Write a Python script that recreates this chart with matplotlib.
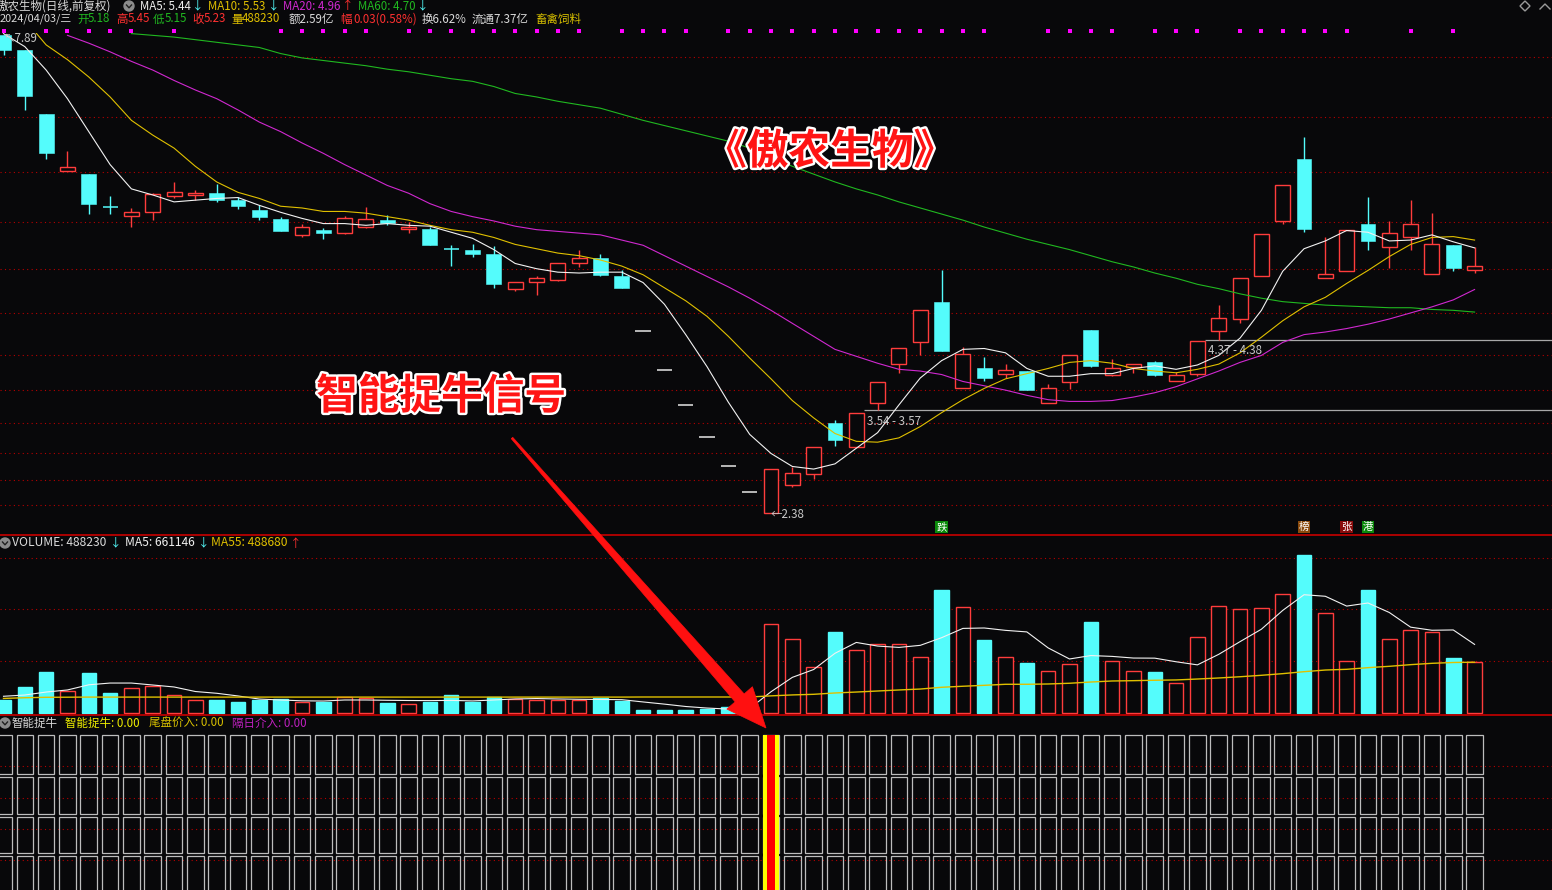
import numpy as np
import matplotlib
matplotlib.use("Agg")
import matplotlib.pyplot as plt
from matplotlib.patches import Rectangle, Polygon, Circle
from matplotlib import patheffects as pe
from matplotlib import transforms as mtrans

plt.rcParams['font.family'] = ['Noto Sans CJK SC', 'DejaVu Sans']

# ---- daily bars (index 0 = leftmost candle) ----
opens = [7.89, 7.72, 6.98, 6.33, 6.29, 5.91, 5.81, 5.85, 6.04, 6.05,
         6.07, 5.99, 5.88, 5.77, 5.59, 5.65, 5.61, 5.68, 5.76, 5.66,
         5.66, 5.43, 5.42, 5.37, 4.97, 5.05, 5.07, 5.27, 5.32, 5.12,
         4.48, 4.03, 3.63, 3.26, 2.93, 2.63, 2.38, 2.71, 2.83, 3.42,
         3.15, 3.65, 4.10, 4.35, 4.82, 3.82, 4.05, 3.99, 4.02, 3.65,
         3.89, 4.49, 3.97, 4.07, 4.12, 3.90, 3.99, 4.48, 4.62, 5.11,
         5.75, 6.46, 5.09, 5.17, 5.72, 5.45, 5.56, 5.14, 5.47, 5.18]
highs = [7.89, 7.72, 6.98, 6.56, 6.29, 6.04, 5.90, 6.07, 6.20, 6.11,
         6.18, 6.03, 5.93, 5.80, 5.72, 5.67, 5.81, 5.91, 5.82, 5.74,
         5.68, 5.47, 5.48, 5.46, 5.05, 5.12, 5.27, 5.41, 5.37, 5.19,
         4.48, 4.03, 3.63, 3.26, 2.93, 2.63, 2.89, 2.91, 3.15, 3.46,
         3.54, 3.89, 4.28, 4.72, 5.19, 4.30, 4.18, 4.10, 4.02, 3.87,
         4.21, 4.49, 4.16, 4.10, 4.14, 4.01, 4.37, 4.78, 5.09, 5.60,
         6.16, 6.72, 5.56, 5.65, 6.03, 5.75, 5.99, 5.84, 5.47, 5.45]
lows = [7.66, 7.03, 6.47, 6.33, 5.83, 5.83, 5.68, 5.76, 6.02, 5.99,
        5.97, 5.89, 5.76, 5.63, 5.57, 5.54, 5.60, 5.67, 5.70, 5.61,
        5.47, 5.23, 5.33, 4.98, 4.94, 4.90, 5.06, 5.22, 5.12, 4.98,
        4.48, 4.03, 3.63, 3.26, 2.93, 2.63, 2.38, 2.68, 2.78, 3.16,
        3.15, 3.57, 4.00, 4.21, 4.25, 3.82, 3.91, 3.94, 3.80, 3.65,
        3.81, 4.07, 3.96, 4.00, 3.96, 3.90, 3.96, 4.38, 4.57, 5.11,
        5.71, 5.62, 5.09, 5.17, 5.42, 5.21, 5.42, 5.14, 5.17, 5.15]
closes = [7.72, 7.19, 6.53, 6.37, 5.95, 5.91, 5.85, 6.06, 6.08, 6.07,
          5.99, 5.92, 5.80, 5.63, 5.68, 5.61, 5.79, 5.77, 5.73, 5.68,
          5.47, 5.43, 5.37, 5.02, 5.05, 5.09, 5.27, 5.32, 5.13, 4.98,
          4.48, 4.03, 3.63, 3.26, 2.93, 2.63, 2.89, 2.85, 3.15, 3.23,
          3.54, 3.89, 4.28, 4.72, 4.25, 4.22, 3.94, 4.03, 3.80, 3.83,
          4.21, 4.08, 4.05, 4.10, 3.98, 3.97, 4.37, 4.63, 5.09, 5.60,
          6.16, 5.66, 5.14, 5.65, 5.52, 5.61, 5.71, 5.48, 5.21, 5.23]

nan = np.nan
ma5 = [7.91, 7.76, 7.49, 7.16, 6.78, 6.40, 6.12, 6.05, 5.97, 5.99,
       6.01, 6.02, 5.93, 5.85, 5.78, 5.72, 5.72, 5.70, 5.72, 5.70,
       5.69, 5.62, 5.55, 5.42, 5.26, 5.20, 5.16, 5.15, 5.16, 5.16,
       5.04, 4.79, 4.44, 4.07, 3.66, 3.29, 3.07, 2.92, 2.89, 2.95,
       3.13, 3.31, 3.63, 3.94, 4.14, 4.27, 4.28, 4.23, 4.05, 3.96,
       3.96, 3.99, 3.99, 4.05, 4.08, 4.04, 4.09, 4.20, 4.40, 4.72,
       5.17, 5.43, 5.52, 5.64, 5.62, 5.52, 5.53, 5.59, 5.51, 5.44]
ma10 = [8.20, 8.07, 7.78, 7.61, 7.41, 7.18, 6.91, 6.74, 6.59, 6.38,
        6.20, 6.08, 6.01, 5.92, 5.90, 5.86, 5.86, 5.84, 5.80, 5.76,
        5.70, 5.65, 5.62, 5.56, 5.48, 5.43, 5.38, 5.35, 5.30, 5.23,
        5.13, 4.98, 4.83, 4.65, 4.42, 4.17, 3.93, 3.68, 3.48, 3.30,
        3.21, 3.20, 3.25, 3.38, 3.54, 3.69, 3.82, 3.93, 3.99, 4.05,
        4.12, 4.14, 4.11, 4.05, 4.02, 4.00, 4.04, 4.10, 4.23, 4.41,
        4.60, 4.76, 4.87, 5.03, 5.18, 5.34, 5.48, 5.56, 5.57, 5.53]
ma20 = [nan, nan, nan, 7.89, 7.80, 7.70, 7.59, 7.49, 7.37, 7.26,
        7.16, 7.03, 6.89, 6.78, 6.65, 6.53, 6.40, 6.28, 6.16, 6.07,
        5.95, 5.86, 5.80, 5.75, 5.69, 5.65, 5.63, 5.61, 5.59, 5.53,
        5.47, 5.35, 5.23, 5.11, 4.99, 4.86, 4.72, 4.57, 4.42, 4.27,
        4.19, 4.11, 4.04, 4.02, 3.98, 3.90, 3.85, 3.80, 3.74, 3.69,
        3.67, 3.67, 3.68, 3.72, 3.77, 3.84, 3.93, 4.02, 4.12, 4.20,
        4.35, 4.44, 4.47, 4.51, 4.56, 4.62, 4.69, 4.76, 4.84, 4.96]
ma60 = [nan, nan, nan, nan, nan, nan, 7.91, 7.89, 7.87, 7.84,
        7.81, 7.78, 7.75, 7.68, 7.63, 7.60, 7.57, 7.54, 7.50, 7.47,
        7.43, 7.39, 7.36, 7.30, 7.22, 7.18, 7.13, 7.09, 7.05, 6.98,
        6.91, 6.85, 6.79, 6.73, 6.67, 6.59, 6.49, 6.38, 6.29, 6.20,
        6.12, 6.05, 5.97, 5.90, 5.83, 5.76, 5.68, 5.61, 5.54, 5.48,
        5.42, 5.35, 5.28, 5.22, 5.15, 5.09, 5.02, 4.97, 4.91, 4.86,
        4.82, 4.80, 4.78, 4.77, 4.76, 4.75, 4.75, 4.73, 4.72, 4.70]

# volume in thousands of lots
volume = [123, 249, 394, 206, 384, 190, 236, 261, 168, 119,
          123, 103, 126, 133, 100, 106, 155, 139, 94, 87,
          103, 168, 106, 155, 129, 119, 119, 119, 139, 113,
          26, 26, 26, 39, 55, 60, 856, 711, 440, 781,
          604, 665, 665, 536, 1188, 1023, 704, 536, 481, 404,
          471, 878, 500, 404, 394, 285, 733, 1033, 1001, 1013,
          1149, 1527, 965, 500, 1188, 713, 800, 781, 530, 488.23]
vol_ma5 = [159, 171, 200, 220, 270, 287, 287, 268, 249, 205,
           188, 162, 132, 123, 115, 113, 123, 123, 120, 118,
           117, 119, 114, 123, 133, 137, 133, 130, 128, 126,
           104, 83, 60, 45, 35, 41, 203, 342, 418, 575,
           680, 645, 632, 652, 726, 816, 820, 797, 782, 627,
           520, 553, 545, 529, 528, 493, 463, 565, 688, 808,
           990, 1142, 1127, 1032, 1062, 970, 828, 798, 801, 661.146]
vol_ma55 = [138, 145, 149, 150, 151, 151, 151, 151, 151, 151,
            151, 151, 151, 151, 151, 151, 151, 151, 151, 151,
            151, 151, 151, 151, 151, 151, 151, 151, 151, 151,
            152, 152, 152, 152, 152, 152, 163, 172, 178, 191,
            200, 210, 220, 229, 246, 256, 265, 275, 275, 278,
            285, 297, 307, 310, 314, 317, 326, 336, 348, 362,
            378, 397, 413, 420, 436, 449, 465, 478, 486, 488.68]

grid_prices = [7.64, 6.95, 6.31, 5.74, 5.20, 4.69, 4.21, 3.80, 3.42, 3.07, 2.76, 2.48]
vol_grid = [500, 1000, 1500]
dot_idx = [0, 2, 3, 4, 5, 6, 8, 13, 14, 15, 16, 17, 19, 20, 21, 22, 23, 24, 25, 26,
           27, 29, 30, 31, 32, 34, 35, 36, 37, 38, 39, 40, 41, 42, 43, 44, 45, 46,
           49, 50, 51, 52, 54, 55, 56, 58, 59, 60, 61, 62, 63, 66, 68]
gap_after = [40, 56]
signal_idx = [36]
badge_idx = [44, 61, 63, 64]
badge_text = ['跌', '榜', '张', '港']
badge_col = ['#0b8a0b', '#8a4a0c', '#8a0c0c', '#0b8a0b']

BG = '#08080a'
UP = '#ff3c3c'
DN = '#54fcfc'
FLAT = '#e6e6e6'
GRID = '#b80000'
SEP = '#c80000'
YEL = '#e0c000'
MAG = '#d028d0'
GRN = '#20b820'
TXT = '#dadada'

W_PX, H_PX = 1552, 890
fig = plt.figure(figsize=(W_PX / 100, H_PX / 100), dpi=100, facecolor=BG)

n = len(closes)
x = np.arange(n)
step = 21.32   # px between candles
x0 = 3.5       # px centre of first candle
xlim = (-x0 / step, (W_PX - x0) / step)


def panel(top_px, bot_px):
    a = fig.add_axes([0, 1 - bot_px / H_PX, 1, (bot_px - top_px) / H_PX])
    a.set_facecolor(BG)
    a.set_xlim(*xlim)
    a.axis('off')
    return a


ax = panel(33, 535)
axv = panel(535, 715)
axs = panel(715, 890)
ax.set_ylim(2.130, 7.917)
axv.set_ylim(-22.3, 1720.1)
axs.set_ylim(0, 175)

dotted = (0, (1, 3))

# ---------------- price panel ----------------
for g in grid_prices:
    ax.axhline(g, color=GRID, lw=0.8, ls=dotted, zorder=1)

bw = 0.70
colors = []
for i in x:
    o, h, l, c = opens[i], highs[i], lows[i], closes[i]
    if c > o:
        col = UP
    elif c < o:
        col = DN
    else:
        col = DN if (i > 0 and c < closes[i - 1]) else UP
    colors.append(col)
    if h == l:
        ax.hlines(c, i - 0.36, i + 0.36, color=FLAT, lw=1.1, zorder=3)
        continue
    top, bot = max(o, c), min(o, c)
    if c == o:
        ax.vlines(i, l, h, color=col, lw=1.0, zorder=3)
        ax.hlines(c, i - bw / 2, i + bw / 2, color=col, lw=1.1, zorder=4)
    elif col == UP:
        ax.vlines(i, top, h, color=UP, lw=1.0, zorder=3)
        ax.vlines(i, l, bot, color=UP, lw=1.0, zorder=3)
        ax.add_patch(Rectangle((i - bw / 2, bot), bw, top - bot, facecolor=BG,
                               edgecolor=UP, lw=1.0, zorder=4))
    else:
        ax.vlines(i, l, h, color=DN, lw=1.0, zorder=3)
        ax.add_patch(Rectangle((i - bw / 2, bot), bw, top - bot, facecolor=DN,
                               edgecolor=DN, lw=0.4, zorder=4))

ax.plot(x, ma60, color=GRN, lw=0.8, zorder=5)
ax.plot(x, ma20, color=MAG, lw=0.8, zorder=5)
ax.plot(x, ma10, color=YEL, lw=0.8, zorder=5)
ax.plot(x, ma5, color='#f2f2f2', lw=0.8, zorder=5)

trans = mtrans.blended_transform_factory(ax.transData, ax.transAxes)
ax.scatter(dot_idx, [1.004] * len(dot_idx), marker='s', s=5, color='#ff00ff',
           linewidths=0, transform=trans, clip_on=False, zorder=6)

imax, imin = int(np.argmax(highs)), int(np.argmin(lows))
ax.annotate(f'↖{highs[imax]:.2f}', xy=(imax, highs[imax]), xytext=(0, -3),
            textcoords='offset pixels', ha='left', va='center', fontsize=8.3,
            color='#c8c8c8', annotation_clip=False, zorder=7)
ax.annotate(f'←{lows[imin]:.2f}', xy=(imin, lows[imin]), xytext=(0, -1),
            textcoords='offset pixels', ha='left', va='center', fontsize=8.3,
            color='#c8c8c8', zorder=7)

for i in gap_after:
    ax.hlines(lows[i + 1], i + 0.35, xlim[1], color='#a8a8a8', lw=0.9, zorder=2)
    ax.annotate(f'{highs[i]:.2f} - {lows[i + 1]:.2f}', xy=(i + 0.35, lows[i + 1]),
                xytext=(3, -11), textcoords='offset pixels', ha='left', va='center',
                fontsize=8.3, color='#c8c8c8', zorder=7)

for i, t, c in zip(badge_idx, badge_text, badge_col):
    ax.text(i, 0.016, t, transform=trans, ha='center', va='center', fontsize=7.5,
            color='white', zorder=7,
            bbox=dict(boxstyle='square,pad=0.1', fc=c, ec='none'))

# ---------------- volume panel ----------------
for g in vol_grid:
    axv.axhline(g, color=GRID, lw=0.8, ls=dotted, zorder=1)
faces = [BG if c == UP else DN for c in colors]
axv.bar(x, volume, width=0.68, color=faces, edgecolor=colors, lw=1.0, zorder=3)
axv.plot(x, vol_ma5, color='#f2f2f2', lw=0.8, zorder=4)
axv.plot(x, vol_ma55, color=YEL, lw=1.0, zorder=4)

# ---------------- signal panel ----------------
rows = [(116, 155), (76, 113), (37, 73), (-3, 34)]
for g in [124, 92, 61, 30]:
    axs.axhline(g, color=GRID, lw=0.8, ls=dotted, zorder=0)
for i in x:
    for lo, hi in rows:
        axs.add_patch(Rectangle((i - 0.39, lo), 0.78, hi - lo, fill=False,
                                edgecolor='#bdbdbd', lw=0.9, zorder=2))
for i in signal_idx:
    axs.add_patch(Rectangle((i - 0.375, 0), 0.75, 155, facecolor='#ffff00',
                            edgecolor='none', zorder=5))
    axs.add_patch(Rectangle((i - 0.19, 0), 0.38, 155, facecolor='#ff0000',
                            edgecolor='none', zorder=6))

# ---------------- overlay: separators, headers, annotations ----------------
ov = fig.add_axes([0, 0, 1, 1])
ov.set_xlim(0, W_PX)
ov.set_ylim(H_PX, 0)
ov.axis('off')
ov.patch.set_alpha(0)

ov.hlines([535, 715], 0, W_PX, color=SEP, lw=1.2)


def icon(cx, cy):
    ov.add_patch(Circle((cx, cy), 5, color='#8c8c8c', zorder=8))
    ov.plot([cx - 2.5, cx, cx + 2.5], [cy - 1, cy + 1.8, cy - 1], color='#202020', lw=1.0, zorder=9)


def seg(px, py, s, c, fs=8.3):
    ov.text(px, py, s, color=c, fontsize=fs, ha='left', va='center', zorder=9)


# main header
seg(-3, 6, '傲农生物(日线,前复权)', TXT)
icon(129, 6)
seg(140, 6, f'MA5: {ma5[-1]:.2f}', '#f0f0f0'); seg(192, 6, '↓', DN)
seg(208, 6, f'MA10: {ma10[-1]:.2f}', YEL); seg(268, 6, '↓', DN)
seg(283, 6, f'MA20: {ma20[-1]:.2f}', MAG); seg(342, 6, '↑', '#ff3030')
seg(358, 6, f'MA60: {ma60[-1]:.2f}', GRN); seg(417, 6, '↓', DN)

seg(0, 19, '2024/04/03/三', TXT, fs=7.9)
seg(77, 19, '开', GRN); seg(88, 19, f'{opens[-1]:.2f}', GRN)
seg(116, 19, '高', '#ff3030'); seg(128, 19, f'{highs[-1]:.2f}', '#ff3030')
seg(153, 19, '低', GRN); seg(165, 19, f'{lows[-1]:.2f}', GRN)
seg(192, 19, '收', '#ff3030'); seg(204, 19, f'{closes[-1]:.2f}', '#ff3030')
seg(231, 19, '量', YEL); seg(242, 19, '488230', YEL)
seg(289, 19, '额2.59亿', TXT)
seg(340, 19, '幅', '#ff3030'); seg(353, 19, '0.03(0.58%)', '#ff3030')
seg(422, 19, '换6.62%', TXT)
seg(472, 19, '流通7.37亿', TXT)
seg(535, 19, '畜禽饲料', '#d8c000')

# top-right widgets
ov.add_patch(Polygon([(1525, 1), (1530, 6), (1525, 11), (1520, 6)], closed=True,
                     fill=False, edgecolor='#9a9a9a', lw=1.0))
ov.plot([1540, 1545, 1550], [9, 4, 9], color='#9a9a9a', lw=1.0)

# volume header
icon(5, 543)
seg(12, 543, 'VOLUME: 488230', TXT, fs=8.7); seg(110, 543, '↓', DN)
seg(125, 543, 'MA5: 661146', '#f0f0f0', fs=8.7); seg(198, 543, '↓', DN)
seg(211, 543, 'MA55: 488680', YEL, fs=8.7); seg(290, 543, '↑', '#ff3030')

# signal header
icon(5, 723)
seg(12, 723, '智能捉牛', TXT)
seg(65, 723, '智能捉牛: 0.00', '#f0f000')
seg(149, 723, '尾盘价入: 0.00', '#d8c000')
seg(232, 723, '隔日介入: 0.00', '#c020c0')

# big red arrow
tail = np.array([512.0, 438.0])
tip = np.array([766.0, 728.0])
u = (tip - tail) / np.linalg.norm(tip - tail)
nv = np.array([u[1], -u[0]])
base = tip - 40 * u
pts = [tail + 1 * nv, base + 6 * nv, base + 17 * nv, tip,
       base - 17 * nv, base - 6 * nv, tail - 1 * nv]
ov.add_patch(Polygon(pts, closed=True, facecolor='#ff1010', edgecolor='#ff1010',
                     lw=0.5, zorder=10))

stroke = [pe.withStroke(linewidth=3.5, foreground='white')]
ov.text(830, 152, '《傲农生物》', color='#ff1414', fontsize=30, fontweight='bold',
        ha='center', va='center', path_effects=stroke, zorder=11)
ov.text(441, 397, '智能捉牛信号', color='#ff1414', fontsize=30, fontweight='bold',
        ha='center', va='center', path_effects=stroke, zorder=11)

fig.savefig('out.png', dpi=100, facecolor=BG)
